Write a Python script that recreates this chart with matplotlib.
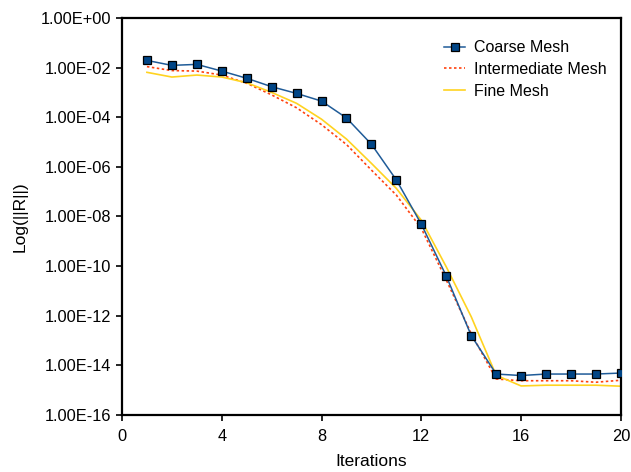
import numpy as np
import matplotlib
matplotlib.use('Agg')
import matplotlib.pyplot as plt
from matplotlib.ticker import FixedLocator, FuncFormatter

plt.rcParams['font.family'] = ['Liberation Sans', 'DejaVu Sans']

iterations = list(range(1, 21))
# log10 of residual norm
coarse_log = [-1.71, -1.91, -1.87, -2.14, -2.43, -2.77, -3.04, -3.35, -4.03, -5.09,
              -6.53, -8.31, -10.40, -12.80, -14.35, -14.41, -14.35, -14.35, -14.35, -14.31]
inter_log = [-1.96, -2.12, -2.14, -2.30, -2.63, -3.10, -3.62, -4.30, -5.10, -6.13,
             -7.14, -8.48, -10.56, -12.72, -14.55, -14.62, -14.62, -14.62, -14.68, -14.60]
fine_log = [-2.19, -2.38, -2.30, -2.38, -2.61, -3.00, -3.44, -4.08, -4.88, -5.86,
            -6.87, -8.15, -10.03, -12.04, -14.40, -14.83, -14.80, -14.80, -14.80, -14.84]

coarse = 10.0 ** np.array(coarse_log)
inter = 10.0 ** np.array(inter_log)
fine = 10.0 ** np.array(fine_log)

fig = plt.figure(figsize=(6.31, 4.72), dpi=100)
ax = fig.add_axes([0.1933, 0.1208, 0.7907, 0.8411])

ax.plot(iterations, coarse, color='#1f5b98', lw=1.1, marker='s', ms=6,
        mfc='#004586', mec='black', mew=0.9, label='Coarse Mesh', zorder=3)
ax.plot(iterations, inter, color='#ff420e', lw=1.2, ls=(0, (1.5, 1.5)),
        label='Intermediate Mesh', zorder=2)
ax.plot(iterations, fine, color='#ffd320', lw=1.2, label='Fine Mesh', zorder=2)

ax.set_yscale('log')
ax.set_ylim(1e-16, 1e0)
ax.set_xlim(0, 20)
ax.yaxis.set_major_locator(FixedLocator([10.0 ** k for k in range(-16, 1, 2)]))
ax.yaxis.set_minor_locator(FixedLocator([]))

def sci(v, pos):
    e = int(round(np.log10(v)))
    return '1.00E%s%02d' % ('+' if e >= 0 else '-', abs(e))

ax.yaxis.set_major_formatter(FuncFormatter(sci))
ax.set_xticks([0, 4, 8, 12, 16, 20])

for s in ax.spines.values():
    s.set_linewidth(1.6)
ax.tick_params(direction='out', length=4, width=1.2, labelsize=11.8, colors='black')
ax.tick_params(axis='x', pad=6)

ax.set_xlabel('Iterations', fontsize=12.5, labelpad=7)
ax.set_ylabel('Log(||R||)', fontsize=12.5, labelpad=10)

ax.legend(loc='upper right', bbox_to_anchor=(1.0, 0.98), frameon=False,
          fontsize=11.5, handlelength=1.3, handletextpad=0.55, labelspacing=0.42)

fig.savefig('out.png', dpi=100)
